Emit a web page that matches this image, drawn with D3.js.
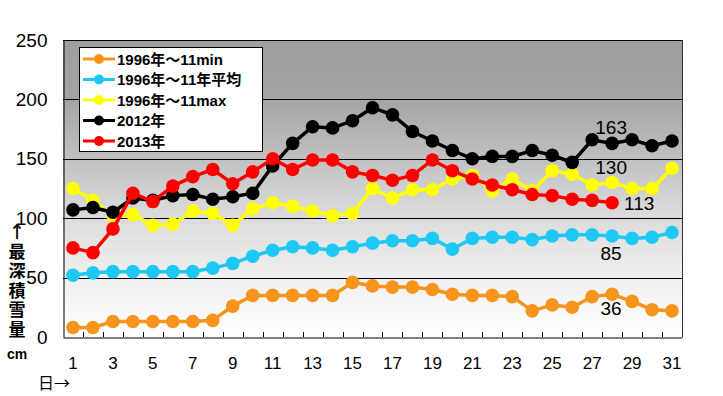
<!DOCTYPE html>
<html><head><meta charset="utf-8">
<script src="https://cdn.jsdelivr.net/npm/d3@7"></script>
<style>body{margin:0;background:#fff}svg{display:block}</style>
</head><body>
<script>
const days = [1,2,3,4,5,6,7,8,9,10,11,12,13,14,15,16,17,18,19,20,21,22,23,24,25,26,27,28,29,30,31];
const tickLabels = [1,3,5,7,9,11,13,15,17,19,21,23,25,27,29,31];
const yTicks = [0,50,100,150,200,250];
const minVals = [8,8,13,13,13,13,13,14,26,35,35,35,35,35,46,43,42,42,40,36,35,35,34,22,27,25,34,36,30,23,22];
const avgVals = [52,54,55,55,55,55,55,58,62,68,73,76,75,73,76,79,81,81,83,74,83,84,84,82,85,86,86,85,83,84,88];
const maxVals = [125,115,102,103,94,95,106,104,94,108,113,110,106,102,104,125,117,124,124,133,136,123,133,123,140,137,128,130,125,125,142];
const vals2012 = [107,109,105,117,115,119,120,116,118,121,144,163,177,176,182,193,187,173,165,157,150,152,152,157,153,147,166,163,166,161,165];
const vals2013 = [75,71,91,121,114,127,135,141,129,139,150,141,149,149,139,136,132,136,149,140,133,128,124,120,119,116,115,113];
const seriesNames = ["1996年～11min","1996年～11年平均","1996年～11max","2012年","2013年"];
const seriesColors = ["#f7941d","#1ec8f5","#ffff00","#000000","#ff0000"];
const seriesValues = [minVals, avgVals, maxVals, vals2012, vals2013];
const endLabels = ["36","85","130","163","113"];
const labelDay = 28;

const W = 723, H = 396;
const m = {l:63, r:682, t:40, b:337};
const svg = d3.select("body").append("svg").attr("width",W).attr("height",H);
const FONT = "'Liberation Sans','Noto Sans CJK JP',sans-serif";
const CJK = "'Noto Sans CJK JP',sans-serif";

const x = d3.scaleBand().domain(days).range([m.l, m.r]).padding(0);
const cx = d => x(d) + x.bandwidth()/2;
const y = d3.scaleLinear().domain([0,250]).range([m.b, m.t]);

const defs = svg.append("defs");
const g = defs.append("linearGradient").attr("id","bg").attr("x1",0).attr("y1",0).attr("x2",0).attr("y2",1);
g.append("stop").attr("offset","0%").attr("stop-color","#9e9e9e");
g.append("stop").attr("offset","20%").attr("stop-color","#a4a4a4");
g.append("stop").attr("offset","55%").attr("stop-color","#d6d6d6");
g.append("stop").attr("offset","80%").attr("stop-color","#f0f0f0");
g.append("stop").attr("offset","100%").attr("stop-color","#ffffff");

svg.append("rect").attr("x",m.l).attr("y",m.t).attr("width",m.r-m.l).attr("height",m.b-m.t).attr("fill","url(#bg)");

// gridlines
svg.append("g").selectAll("line").data(yTicks.filter(v=>v>0)).join("line")
  .attr("x1",m.l).attr("x2",m.r).attr("y1",d=>Math.round(y(d))+0.5).attr("y2",d=>Math.round(y(d))+0.5)
  .attr("stroke","#000").attr("stroke-width",1);

// plot border right
svg.append("line").attr("x1",m.r+0.5).attr("x2",m.r+0.5).attr("y1",m.t).attr("y2",m.b).attr("stroke","#333");

// y axis
const yAxis = d3.axisLeft(y).tickValues(yTicks).tickSize(0).tickPadding(16);
const ya = svg.append("g").attr("transform",`translate(${m.l+0.5},0)`).call(yAxis);
ya.select(".domain").attr("stroke","#000");
ya.selectAll("text").attr("font-family",FONT).attr("font-size",19).attr("fill","#000");

// x axis
const xAxis = d3.axisBottom(x).tickValues(tickLabels).tickSize(0).tickPadding(19);
const xa = svg.append("g").attr("transform",`translate(0,${m.b+0.5})`).call(xAxis);
xa.select(".domain").attr("stroke","#000");
xa.selectAll("text").attr("font-family",FONT).attr("font-size",17).attr("fill","#000");
// tick marks at category boundaries
svg.append("g").selectAll("line").data(days.slice(1)).join("line")
  .attr("x1",d=>Math.round(x(d))+0.5).attr("x2",d=>Math.round(x(d))+0.5)
  .attr("y1",m.b).attr("y2",m.b-5).attr("stroke","#000");

// series
const line = d3.line().x((d,i)=>cx(days[i])).y(d=>y(d));
seriesValues.forEach((vals,k)=>{
  const gg = svg.append("g");
  gg.append("path").attr("d",line(vals)).attr("fill","none").attr("stroke",seriesColors[k]).attr("stroke-width",3.5);
  gg.selectAll("circle").data(vals).join("circle")
    .attr("cx",(d,i)=>cx(days[i])).attr("cy",d=>y(d)).attr("r",6.8).attr("fill",seriesColors[k]);
});

// end labels
const li = days.indexOf(labelDay);
const lab = svg.append("g").attr("font-family",FONT).attr("font-size",19).attr("fill","#000");
lab.append("text").attr("x",cx(labelDay)-1).attr("y",y(minVals[li])+14).attr("text-anchor","middle").attr("dominant-baseline","central").text(endLabels[0]);
lab.append("text").attr("x",cx(labelDay)-1).attr("y",y(avgVals[li])+17).attr("text-anchor","middle").attr("dominant-baseline","central").text(endLabels[1]);
lab.append("text").attr("x",cx(labelDay)-1).attr("y",y(maxVals[li])-15).attr("text-anchor","middle").attr("dominant-baseline","central").text(endLabels[2]);
lab.append("text").attr("x",cx(labelDay)-1).attr("y",y(vals2012[li])-16).attr("text-anchor","middle").attr("dominant-baseline","central").text(endLabels[3]);
lab.append("text").attr("x",cx(labelDay)+12).attr("y",y(vals2013[li])+1).attr("text-anchor","start").attr("dominant-baseline","central").text(endLabels[4]);

// legend
const lg = svg.append("g");
lg.append("rect").attr("x",79.5).attr("y",47.5).attr("width",183).attr("height",104).attr("fill","#fff").attr("stroke","#000");
seriesNames.forEach((n,k)=>{
  const yy = 59 + k*20.5;
  lg.append("line").attr("x1",83).attr("x2",115).attr("y1",yy).attr("y2",yy).attr("stroke",seriesColors[k]).attr("stroke-width",3);
  lg.append("circle").attr("cx",99).attr("cy",yy).attr("r",5).attr("fill",seriesColors[k]);
  lg.append("text").attr("x",117).attr("y",yy).attr("dominant-baseline","central")
    .attr("font-family",FONT).attr("font-size",15).attr("font-weight","bold").attr("fill","#000").text(n);
});

// axis titles: vertical writing, one text element
svg.append("text").attr("x",17).attr("y",223)
  .style("writing-mode","vertical-rl").style("text-orientation","upright").style("letter-spacing","2.6px")
  .attr("font-family",CJK).attr("font-size",17).attr("font-weight","bold").text("↑最深積雪量");
svg.append("text").attr("x",17).attr("y",354).attr("text-anchor","middle").attr("dominant-baseline","central")
  .attr("font-family",FONT).attr("font-size",14).attr("font-weight","bold").text("cm");
svg.append("text").attr("x",38).attr("y",382).attr("dominant-baseline","central")
  .attr("font-family",CJK).attr("font-size",16).text("日→");
</script>
</body></html>
